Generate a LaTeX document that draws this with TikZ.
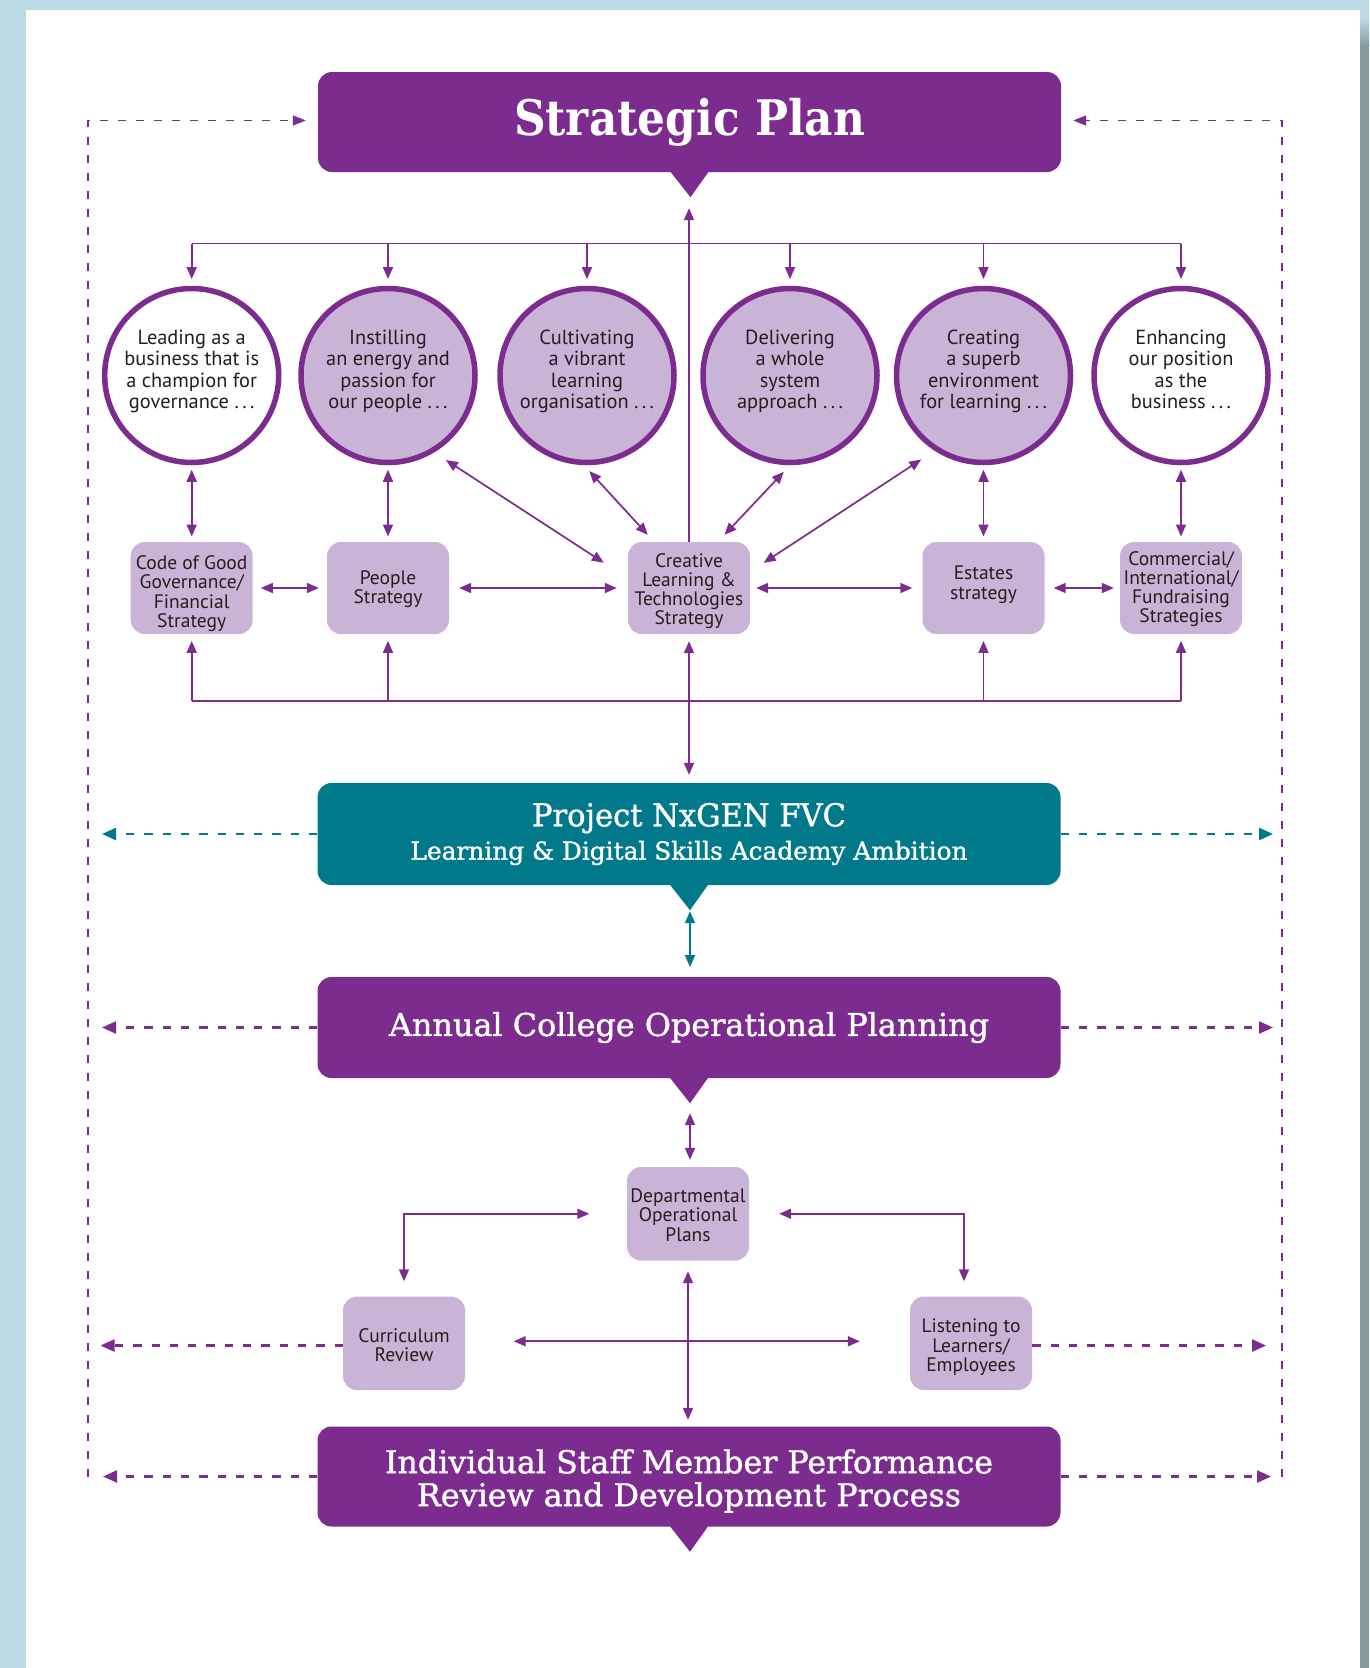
\documentclass[tikz,border=0pt]{standalone}
\usepackage{fontspec}
\usepackage{graphicx}
\setmainfont{PT Sans}
\newfontfamily\bodyfont{PT Sans}
\newfontfamily\slabfont[FakeBold=1.2]{DejaVu Serif}
\newfontfamily\slabheavy{DejaVu Serif Bold}
\usetikzlibrary{arrows.meta,calc}

\definecolor{plum}{HTML}{7B2C8E}
\definecolor{lilac}{HTML}{C9B3D6}
\definecolor{deepteal}{HTML}{007A8A}
\definecolor{paleblue}{HTML}{BCDCE5}
\definecolor{edgegray}{HTML}{879A9E}
\definecolor{inkgray}{HTML}{231F20}

% squeeze a heading line to a given width, keeping its height
\newcommand{\fitw}[2]{\resizebox{#1pt}{\height}{#2}}
% fixed line height / depth so every block sits the same way in its shape
\newcommand{\hgt}[1]{\rule{0pt}{#1pt}}
\newcommand{\dpt}[1]{\rule[-#1pt]{0pt}{0pt}}
\newcommand{\gtop}{\hgt{16}}
\newcommand{\gbot}{\dpt{14}}
\newcommand{\btop}{\hgt{22}}
\newcommand{\bbot}{\dpt{6}}

\tikzset{
  banner/.style={rectangle, rounded corners=14pt, minimum width=743pt,
    minimum height=101pt, inner sep=0pt, text=white, align=center},
  goal/.style={circle, draw=plum, line width=5.5pt, minimum size=174pt,
    inner sep=0pt, align=center, text=inkgray,
    font={\bodyfont\fontsize{20.4}{21.2}\selectfont}},
  strat/.style={rectangle, rounded corners=14pt, fill=lilac, minimum width=122pt,
    minimum height=92pt, inner sep=0pt, align=center, text=inkgray,
    font={\bodyfont\fontsize{19.5}{19.3}\selectfont}},
  link/.style={plum, line width=1.7pt},
  both/.style={link, {Triangle[length=12pt,width=10pt]}-{Triangle[length=12pt,width=10pt]}},
  tip/.style={link, -{Triangle[length=12pt,width=10pt]}},
  loopline/.style={plum, line width=1.6pt, dash pattern=on 8pt off 10pt,
    -{Triangle[length=13pt,width=10pt]}},
  sideline/.style={line width=2.3pt, dash pattern=on 8.3pt off 10pt,
    -{Triangle[length=14pt,width=12pt]}}
}

\begin{document}
\begin{tikzpicture}[x=1pt,y=-1pt]
\useasboundingbox (0,0) rectangle (1369,1668);

% page and surround
\fill[paleblue] (0,0) rectangle (1369,1668);
\fill[white] (26,10) rectangle (1360,1668);
\shade[top color=paleblue,bottom color=edgegray] (1360,18) rectangle (1369,46);
\fill[edgegray] (1360,46) rectangle (1369,1668);

% outer feedback loop corners
\coordinate (loopL) at (88,120.5);
\coordinate (loopR) at (1282,120.5);

% banners
\node[banner, fill=plum, minimum height=100pt,
      font={\slabheavy\fontsize{49}{49}\selectfont}] (sp) at (689.5,122)
  {\fitw{351}{Strategic Plan}};
\node[banner, fill=deepteal, minimum height=102pt,
      font={\slabfont\fontsize{31.5}{33.3}\selectfont}] (pj) at (689,834)
  {\fitw{314}{Project NxGEN FVC}\\
   \fontsize{24.7}{33.3}\selectfont\fitw{557}{Learning \& Digital Skills Academy Ambition}};
\node[banner, fill=plum, minimum height=101pt,
      font={\slabfont\fontsize{31.5}{33}\selectfont}] (an) at (689,1027.5)
  {\fitw{600}{Annual College Operational Planning}};
\node[banner, fill=plum, minimum height=100pt,
      font={\slabfont\fontsize{31.5}{33}\selectfont}] (ind) at (689,1476.5)
  {\hgt{33}\fitw{608}{Individual Staff Member Performance}\\
   \fitw{544}{Review and Development Process}};

% speech-bubble pointers under the banners
\foreach \b/\c in {sp/plum, pj/deepteal, an/plum, ind/plum} {
  \fill[\c] ($(\b.south)+(-19.5,-1)$) -- ($(\b.south)+(19.5,-1)$)
    -- ($(\b.south)+(1,25)$) -- cycle;
  \coordinate (\b-tip) at ($(\b.south)+(1,25)$);
}

% loop lines
\draw[loopline, shorten >=12pt] (loopL |- ind.west) -- (loopL) -- (loopL -| sp.west);
\draw[loopline, shorten >=12pt] (loopR |- ind.west) -- (loopR) -- (loopR -| sp.east);

% aims
\node[goal, fill=white] (c1) at (191.7,375.5)
  {\gtop Leading as a\\business that is\\a champion for\\governance .\,.\,.\gbot};
\node[goal, fill=lilac] (c2) at (388,375.5)
  {\gtop Instilling\\an energy and\\passion for\\our people .\,.\,.\gbot};
\node[goal, fill=lilac] (c3) at (587,375.5)
  {\gtop Cultivating\\a vibrant\\learning\\organisation .\,.\,.\gbot};
\node[goal, fill=lilac] (c4) at (790,375.5)
  {\gtop Delivering\\a whole\\system\\approach .\,.\,.\gbot};
\node[goal, fill=lilac] (c5) at (983.5,375.5)
  {\gtop Creating\\a superb\\environment\\for learning .\,.\,.\gbot};
\node[goal, fill=white] (c6) at (1181,375.5)
  {\gtop Enhancing\\our position\\as the\\business .\,.\,.\gbot};

% strategies
\node[strat] (s1) at (191.7,588) {\hgt{27}Code of Good\\Governance/\\Financial\\Strategy\bbot};
\node[strat] (s2) at (388,588) {\hgt{18}People\\Strategy\bbot};
\node[strat] (s3) at (689,588) {\btop Creative\\Learning \&\\Technologies\\Strategy\bbot};
\node[strat] (s4) at (983.5,588) {\hgt{18}Estates\\strategy\dpt{15}};
\node[strat] (s5) at (1181,588) {\hgt{18}Commercial/\\International/\\Fundraising\\Strategies\bbot};

% operational level
\node[strat, minimum height=93.5pt] (dp) at (688,1213.75)
  {\btop Departmental\\Operational\\Plans\bbot};
\node[strat, minimum height=93.5pt] (cr) at (404,1343.25)
  {\hgt{24}Curriculum\\Review\bbot};
\node[strat, minimum height=93.5pt] (ls) at (971,1343.25)
  {\hgt{24}Listening to\\Learners/\\Employees\bbot};

% top distribution bus
\coordinate (topbus) at (689,243.5);
\draw[link] (c1 |- topbus) -- (c6 |- topbus);
\foreach \c in {c1,c2,c3,c4,c5,c6}
  \draw[tip, shorten >=6.7pt] (\c |- topbus) -- (\c.north);
\draw[tip, shorten >=11pt] (s3.north) -- (s3.north |- sp-tip);

% aims to strategies
\draw[both, shorten <=4.5pt, shorten >=5.3pt] (c1.south) -- (s1.north);
\draw[both, shorten <=4.5pt, shorten >=5.3pt] (c2.south) -- (s2.north);
\draw[both, shorten <=4.5pt, shorten >=5.3pt] (c5.south) -- (s4.north);
\draw[both, shorten <=4.5pt, shorten >=5.3pt] (c6.south) -- (s5.north);
\draw[both, shorten <=14pt, shorten >=28.6pt] (c2.-59) -- (s3.171);
\draw[both, shorten <=8pt, shorten >=9.5pt] (c3.-92) -- (s3.127);
\draw[both, shorten <=9pt, shorten >=9.6pt] (c4.-90) -- (s3.58);
\draw[both, shorten <=16pt, shorten >=16pt] (c5.237) -- (s3.15);

% strategy to strategy
\draw[both, shorten <=8pt, shorten >=8pt] (s1.east) -- (s2.west);
\draw[both, shorten <=10pt, shorten >=11pt] (s2.east) -- (s3.west);
\draw[both, shorten <=6pt, shorten >=10pt] (s3.east) -- (s4.west);
\draw[both, shorten <=9pt, shorten >=6pt] (s4.east) -- (s5.west);

% lower bus
\coordinate (lowbus) at (689,700.7);
\draw[link] (s1 |- lowbus) -- (s5 |- lowbus);
\foreach \s in {s1,s2,s4,s5}
  \draw[tip, shorten >=6.7pt] (\s |- lowbus) -- (\s.south);
\draw[both, shorten <=7pt, shorten >=8pt] (s3.south) -- (pj.north);

% down the chain
\draw[both, deepteal, shorten <=1pt, shorten >=9.7pt] (pj-tip) -- (pj-tip |- an.north);
\draw[both, shorten <=10pt, shorten >=7pt] (an-tip) -- (an-tip |- dp.north);
\draw[both, shorten <=37.5pt, shorten >=15pt] (dp.west) -| (cr.north);
\draw[both, shorten <=30pt, shorten >=15pt] (dp.east) -| ($(ls.north)+(-7,0)$);
\draw[both, shorten <=10.5pt, shorten >=6.5pt] (dp.south) -- (dp.south |- ind.north);
\draw[both, shorten <=48.5pt, shorten >=50pt] ($(cr.east)+(0,-2)$) -- ($(ls.west)+(0,-2)$);

% dashed side links
\draw[sideline, deepteal, shorten >=14pt] (pj.west) -- (pj.west -| loopL);
\draw[sideline, deepteal, shorten >=9pt] (pj.east) -- (pj.east -| loopR);
\draw[sideline, plum, shorten >=14pt] (an.west) -- (an.west -| loopL);
\draw[sideline, plum, shorten >=9pt] (an.east) -- (an.east -| loopR);
\draw[sideline, plum, shorten >=12.5pt] ($(cr.west)+(0,2.3)$) -- ($(cr.west -| loopL)+(0,2.3)$);
\draw[sideline, plum, shorten >=16pt] ($(ls.east)+(0,2.3)$) -- ($(ls.east -| loopR)+(0,2.3)$);
\draw[sideline, plum, shorten >=15pt] (ind.west) -- (ind.west -| loopL);
\draw[sideline, plum, shorten >=11pt] (ind.east) -- (ind.east -| loopR);
\end{tikzpicture}
\end{document}
